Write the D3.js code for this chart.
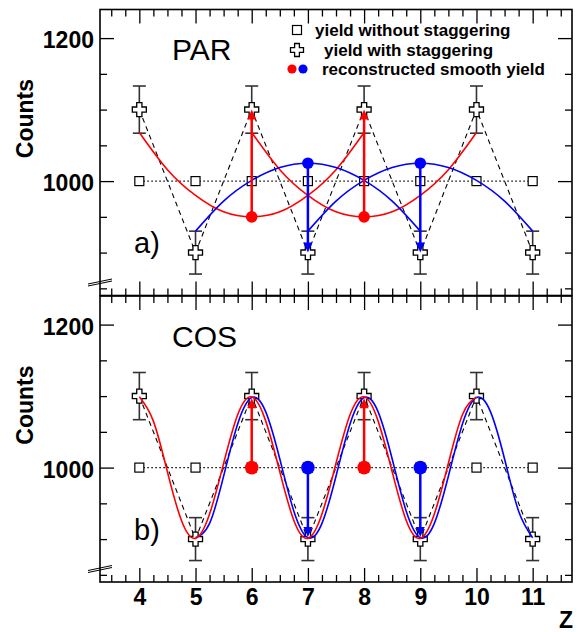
<!DOCTYPE html>
<html>
<head>
<meta charset="utf-8">
<script src="https://cdn.jsdelivr.net/npm/d3@7/dist/d3.min.js"></script>
<style>
html,body{margin:0;padding:0;background:#fff;}
svg{display:block;}
text{font-family:"Liberation Sans",Arial,sans-serif;}
</style>
</head>
<body>
<script>
// ---------------- DATA ----------------
const Z = [4, 5, 6, 7, 8, 9, 10, 11];
const yieldWithout = [1000, 1000, 1000, 1000, 1000, 1000, 1000, 1000];
const yieldWith = [1100, 900, 1100, 900, 1100, 900, 1100, 900];
const yieldErr = [33, 30, 33, 30, 33, 30, 33, 30];

// PAR reconstructed curves
const parZ = [0, 0.5, 1, 1.5, 2, 2.5, 3, 3.5, 4]; // offsets from curve start
const parRedStart = [4, 6];
const parRedVals = [1068, 1016, 980, 957, 950, 957, 980, 1016, 1068];
const parBlueStart = [5, 7];
const parBlueVals = [930, 972, 1001, 1019, 1025, 1019, 1001, 972, 930];
const parRedArrowZ = [6, 8], parRedFrom = 950, parRedTo = 1100;
const parBlueArrowZ = [7, 9], parBlueFrom = 1025, parBlueTo = 900;

// COS reconstructed curves, step 0.25
const cosRedZ = [4,4.25,4.5,4.75,5,5.25,5.5,5.75,6,6.25,6.5,6.75,7,7.25,7.5,7.75,8,8.25,8.5,8.75,9,9.25,9.5,9.75,10];
const cosRedVals = [1099,1065,994,926,901,935,1006,1074,1099,1065,994,926,901,935,1006,1074,1099,1065,994,926,901,935,1006,1074,1099];
const cosBlueZ = [5,5.25,5.5,5.75,6,6.25,6.5,6.75,7,7.25,7.5,7.75,8,8.25,8.5,8.75,9,9.25,9.5,9.75,10,10.25,10.5,10.75,11];
const cosBlueVals = [902,922,988,1061,1098,1078,1012,939,902,922,988,1061,1098,1078,1012,939,902,922,988,1061,1098,1078,1012,939,902];
const cosRedArrowZ = [6, 8], cosRedFrom = 1000, cosRedTo = 1097;
const cosBlueArrowZ = [7, 9], cosBlueFrom = 1000, cosBlueTo = 903;

const yMajor = [1000, 1200];
const yMinor = [850, 900, 950, 1050, 1100, 1150];
const xMajor = [4, 5, 6, 7, 8, 9, 10, 11];
const xMinor = [3.5, 3.75, 4.25, 4.5, 4.75, 5.25, 5.5, 5.75, 6.25, 6.5, 6.75, 7.25, 7.5, 7.75, 8.25, 8.5, 8.75, 9.25, 9.5, 9.75, 10.25, 10.5, 10.75, 11.25, 11.5];

const legendLabels = ["yield without staggering", "yield with staggering", "reconstructed smooth yield"];

// ---------------- LAYOUT ----------------
const W = 579, H = 632;
const RED = "#ff0000", BLUE = "#0000ff";
const svg = d3.select("body").append("svg").attr("width", W).attr("height", H);

const x = d3.scaleLinear().domain([3.3, 11.7]).range([100, 572]);
const panels = [
  {y: d3.scaleLinear().domain([840, 1240]).range([295.5, 9.5]), name: "PAR", tag: "a)", type: "par"},
  {y: d3.scaleLinear().domain([840, 1240]).range([582, 296]), name: "COS", tag: "b)", type: "cos"}
];

function crossPath(s, w) {
  return `M${-w},${-s}H${w}V${-w}H${s}V${w}H${w}V${s}H${-w}V${w}H${-s}V${-w}H${-w}Z`;
}

function arrow(g, xv, yFrom, yTo, color) {
  const dir = yTo < yFrom ? -1 : 1; // pixel direction
  const head = 10, hw = 4.5;
  g.append("line").attr("x1", xv).attr("x2", xv).attr("y1", yFrom).attr("y2", yTo - dir * head * 0.6)
    .attr("stroke", color).attr("stroke-width", 2.5);
  g.append("path").attr("d", `M${xv},${yTo}L${xv - hw},${yTo - dir * head}L${xv + hw},${yTo - dir * head}Z`)
    .attr("fill", color);
}

function styleTicks(a) {
  a.select(".domain").remove();
  a.selectAll("line").attr("stroke", "#000").attr("stroke-width", 1.3);
}

panels.forEach((p, pi) => {
  const y = p.y;
  const g = svg.append("g");
  const [yb, yt] = y.range();
  const [xl, xr] = x.range();

  // ticks: left & right (inward)
  g.append("g").attr("transform", `translate(${xl},0)`)
    .call(d3.axisLeft(y).tickValues(yMajor).tickSize(-14).tickPadding(6).tickFormat(d3.format("d")))
    .call(styleTicks)
    .call(a => a.selectAll("text").attr("font-size", 23).attr("font-weight", "bold").attr("fill", "#000").attr("dy", "0.43em"));
  g.append("g").attr("transform", `translate(${xl},0)`)
    .call(d3.axisLeft(y).tickValues(yMinor).tickSize(-7).tickFormat("")).call(styleTicks);
  g.append("g").attr("transform", `translate(${xr},0)`)
    .call(d3.axisRight(y).tickValues(yMajor).tickSize(-14).tickFormat("")).call(styleTicks);
  g.append("g").attr("transform", `translate(${xr},0)`)
    .call(d3.axisRight(y).tickValues(yMinor).tickSize(-7).tickFormat("")).call(styleTicks);
  // top & bottom ticks
  g.append("g").attr("transform", `translate(0,${yt})`)
    .call(d3.axisTop(x).tickValues(xMajor).tickSize(-14).tickFormat("")).call(styleTicks);
  g.append("g").attr("transform", `translate(0,${yt})`)
    .call(d3.axisTop(x).tickValues(xMinor).tickSize(-7).tickFormat("")).call(styleTicks);
  g.append("g").attr("transform", `translate(0,${yb})`)
    .call(d3.axisBottom(x).tickValues(xMajor).tickSize(-14).tickPadding(7).tickFormat(pi === 1 ? d3.format("d") : ""))
    .call(styleTicks)
    .call(a => a.selectAll("text").attr("font-size", 23).attr("font-weight", "bold").attr("fill", "#000"));
  g.append("g").attr("transform", `translate(0,${yb})`)
    .call(d3.axisBottom(x).tickValues(xMinor).tickSize(-7).tickFormat("")).call(styleTicks);

  // frame
  g.append("rect").attr("x", xl).attr("y", yt).attr("width", xr - xl).attr("height", yb - yt)
    .attr("fill", "none").attr("stroke", "#000").attr("stroke-width", 1.6);

  // axis break marks
  g.append("line").attr("x1", 88).attr("y1", yb - 9.5).attr("x2", 112).attr("y2", yb - 14.5).attr("stroke", "#000").attr("stroke-width", 1);
  g.append("line").attr("x1", 88).attr("y1", yb - 11.5).attr("x2", 112).attr("y2", yb - 16.5).attr("stroke", "#000").attr("stroke-width", 1);

  // y title
  g.append("text").attr("transform", `translate(33,${(y(1200) + y(1000)) / 2 + 9}) rotate(-90)`)
    .attr("text-anchor", "middle").attr("font-size", 23).attr("font-weight", "bold").text("Counts");

  // panel name & tag
  g.append("text").attr("x", 172).attr("y", yt + 50.5).attr("font-size", 30).text(p.name);
  g.append("text").attr("x", 134).attr("y", yt + 243.5).attr("font-size", 29).text(p.tag);

  // dotted line (without staggering)
  const pts0 = Z.map((z, i) => [x(z), y(yieldWithout[i])]);
  g.append("path").attr("d", d3.line()(pts0)).attr("fill", "none").attr("stroke", "#000")
    .attr("stroke-width", 1.2).attr("stroke-dasharray", "1.5,2.5");
  // dashed zigzag
  const pts1 = Z.map((z, i) => [x(z), y(yieldWith[i])]);
  g.append("path").attr("d", d3.line()(pts1)).attr("fill", "none").attr("stroke", "#000")
    .attr("stroke-width", 1.1).attr("stroke-dasharray", "5,4");

  // error bars
  Z.forEach((z, i) => {
    const xv = x(z), y1 = y(yieldWith[i] - yieldErr[i]), y2 = y(yieldWith[i] + yieldErr[i]);
    g.append("line").attr("x1", xv).attr("x2", xv).attr("y1", y1).attr("y2", y2).attr("stroke", "#333").attr("stroke-width", 1.6);
    [y1, y2].forEach(yy => g.append("line").attr("x1", xv - 6.5).attr("x2", xv + 6.5).attr("y1", yy).attr("y2", yy)
      .attr("stroke", "#333").attr("stroke-width", 1.6));
  });
  // squares
  Z.forEach((z, i) => {
    g.append("rect").attr("x", x(z) - 4.5).attr("y", y(yieldWithout[i]) - 4.5).attr("width", 9).attr("height", 9)
      .attr("fill", "#fff").attr("stroke", "#000").attr("stroke-width", 1.2);
  });
  // crosses
  Z.forEach((z, i) => {
    g.append("path").attr("d", crossPath(7, 2.6)).attr("transform", `translate(${x(z)},${y(yieldWith[i])})`)
      .attr("fill", "#fff").attr("stroke", "#000").attr("stroke-width", 1.3);
  });

  const line = d3.line().x(d => x(d[0])).y(d => y(d[1])).curve(d3.curveNatural);
  if (p.type === "par") {
    parRedStart.forEach(s => g.append("path").attr("d", line(parZ.map((o, i) => [s + o, parRedVals[i]])))
      .attr("fill", "none").attr("stroke", RED).attr("stroke-width", 1.6));
    parBlueStart.forEach(s => g.append("path").attr("d", line(parZ.map((o, i) => [s + o, parBlueVals[i]])))
      .attr("fill", "none").attr("stroke", BLUE).attr("stroke-width", 1.6));
    parRedArrowZ.forEach(z => { arrow(g, x(z), y(parRedFrom), y(parRedTo), RED); });
    parBlueArrowZ.forEach(z => { arrow(g, x(z), y(parBlueFrom), y(parBlueTo), BLUE); });
    parRedArrowZ.forEach(z => g.append("circle").attr("cx", x(z)).attr("cy", y(parRedFrom)).attr("r", 5.8).attr("fill", RED));
    parBlueArrowZ.forEach(z => g.append("circle").attr("cx", x(z)).attr("cy", y(parBlueFrom)).attr("r", 5.8).attr("fill", BLUE));
  } else {
    g.append("path").attr("d", line(cosBlueZ.map((z, i) => [z, cosBlueVals[i]])))
      .attr("fill", "none").attr("stroke", BLUE).attr("stroke-width", 1.6);
    g.append("path").attr("d", line(cosRedZ.map((z, i) => [z, cosRedVals[i]])))
      .attr("fill", "none").attr("stroke", RED).attr("stroke-width", 1.6);
    cosRedArrowZ.forEach(z => { arrow(g, x(z), y(cosRedFrom), y(cosRedTo), RED); });
    cosBlueArrowZ.forEach(z => { arrow(g, x(z), y(cosBlueFrom), y(cosBlueTo), BLUE); });
    cosRedArrowZ.forEach(z => g.append("circle").attr("cx", x(z)).attr("cy", y(cosRedFrom)).attr("r", 6.8).attr("fill", RED));
    cosBlueArrowZ.forEach(z => g.append("circle").attr("cx", x(z)).attr("cy", y(cosBlueFrom)).attr("r", 6.8).attr("fill", BLUE));
  }
});

// Z label
svg.append("text").attr("x", 573).attr("y", 628).attr("text-anchor", "end")
  .attr("font-size", 23).attr("font-weight", "bold").text("Z");

// legend
const lg = svg.append("g");
lg.append("rect").attr("x", 292.5).attr("y", 25.5).attr("width", 9).attr("height", 9)
  .attr("fill", "#fff").attr("stroke", "#000").attr("stroke-width", 1.2);
lg.append("text").attr("x", 315).attr("y", 36).attr("font-size", 17).attr("font-weight", "bold").text(legendLabels[0]);
lg.append("path").attr("d", crossPath(6.5, 2.4)).attr("transform", "translate(297,50)")
  .attr("fill", "#fff").attr("stroke", "#000").attr("stroke-width", 1.3);
lg.append("text").attr("x", 324).attr("y", 56).attr("font-size", 17).attr("font-weight", "bold").text(legendLabels[1]);
lg.append("circle").attr("cx", 292).attr("cy", 69).attr("r", 4.6).attr("fill", RED);
lg.append("circle").attr("cx", 303).attr("cy", 69).attr("r", 4.6).attr("fill", BLUE);
lg.append("text").attr("x", 322).attr("y", 75).attr("font-size", 17).attr("font-weight", "bold").text(legendLabels[2]);
</script>
</body>
</html>
